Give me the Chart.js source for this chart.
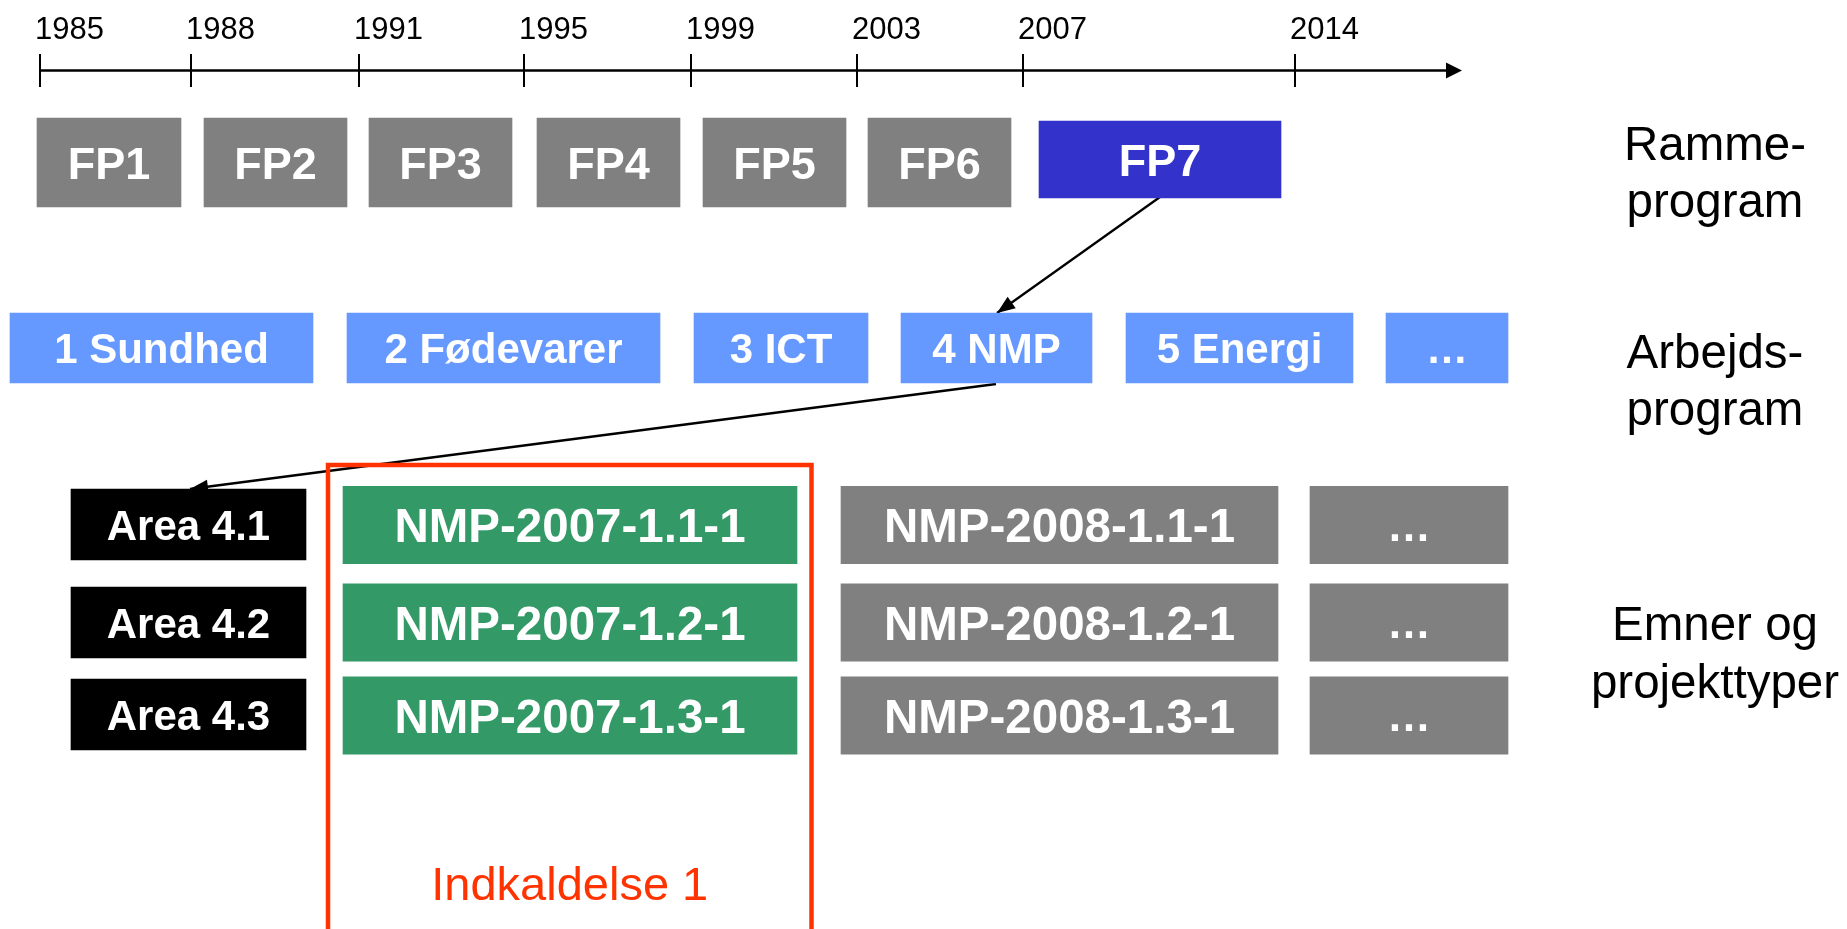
<!DOCTYPE html>
<html lang="da">
<head>
<meta charset="utf-8">
<title>FP7 - struktur</title>
<script src="https://cdn.jsdelivr.net/npm/chart.js"></script>
<style>
  html, body { margin: 0; padding: 0; background: #fff; overflow: hidden; }
  #wrap { width: 1847px; height: 929px; }
</style>
</head>
<body>
<div id="wrap"><canvas id="fpChart" width="1847" height="929"></canvas></div>
<script>
// Data (texts shown in the diagram)
const years = ['1985', '1988', '1991', '1995', '1999', '2003', '2007', '2014'];
const frameworkPrograms = ['FP1', 'FP2', 'FP3', 'FP4', 'FP5', 'FP6', 'FP7'];
const workPrograms = ['1 Sundhed', '2 Fødevarer', '3 ICT', '4 NMP', '5 Energi', '…'];
const areas = ['Area 4.1', 'Area 4.2', 'Area 4.3'];
const topics2007 = ['NMP-2007-1.1-1', 'NMP-2007-1.2-1', 'NMP-2007-1.3-1'];
const topics2008 = ['NMP-2008-1.1-1', 'NMP-2008-1.2-1', 'NMP-2008-1.3-1'];
const topicsLater = ['…', '…', '…'];
const levelNames = [['Ramme-', 'program'], ['Arbejds-', 'program'], ['Emner og', 'projekttyper']];
const callName = 'Indkaldelse 1';

// Layout (1 unit = 1 px of the slide)
const yearX = [40, 191, 359, 524, 691, 857, 1023, 1295];
const timelineY = 70.5;
const timelineEnd = 1462;
const fpBoxes = [[37, 181], [204, 347], [369, 512], [537, 680], [703, 846], [868, 1011], [1039, 1281]];
const fpRow = { y: 162.5, h: 89 };
const fp7Row = { y: 159.5, h: 77 };
const wpBoxes = [[10, 313], [347, 660], [694, 868], [901, 1092], [1126, 1353], [1386, 1508]];
const wpRow = { y: 348, h: 70 };
const areaRowsY = [524.5, 622.5, 714.5];
const topicRowsY = [525, 622.5, 715.5];
const areaX = [71, 306];
const call07X = [343, 797];
const call08X = [841, 1278];
const laterX = [1310, 1508];
const callFrame = { left: 328, right: 811.5, top: 465 };
const connectors = [
    [{ x: 1160, y: 197 }, { x: 997, y: 313 }],
    [{ x: 996, y: 384 }, { x: 190, y: 489 }]
];
const levelX = 1715;
const levelBaselines = [[160, 217], [368, 425], [640, 698]];

const GRAY = '#808080';
const FONT = '"Liberation Sans", Arial, Helvetica, sans-serif';

// helper: a floating horizontal bar dataset
function boxSet(texts, xs, ys, h, color, size) {
    return {
        type: 'bar',
        indexAxis: 'y',
        data: texts.map((t, i) => ({ x: xs[i], y: ys[i] })),
        backgroundColor: color,
        borderWidth: 0,
        barThickness: h,
        texts: texts,
        textSize: size
    };
}

const fpGray = frameworkPrograms.slice(0, 6);
const fpLast = frameworkPrograms.slice(6);

const datasets = [
    // timeline
    {
        type: 'line',
        data: [{ x: yearX[0], y: timelineY }, { x: timelineEnd - 12, y: timelineY }],
        borderColor: '#000', borderWidth: 2.5, pointRadius: 0, fill: false
    },
    {
        type: 'scatter',
        data: yearX.map(x => ({ x: x, y: timelineY })),
        pointStyle: 'line', rotation: 90, pointRadius: 16.5,
        borderColor: '#000', pointBorderWidth: 2
    },
    boxSet(fpGray, fpBoxes.slice(0, 6), fpGray.map(() => fpRow.y), fpRow.h, GRAY, 45),
    boxSet(fpLast, fpBoxes.slice(6), [fp7Row.y], fp7Row.h, '#3333CC', 45),
    boxSet(workPrograms, wpBoxes, workPrograms.map(() => wpRow.y), wpRow.h, '#6699FF', 42),
    boxSet(areas, areas.map(() => areaX), areaRowsY, 71, '#000000', 42),
    boxSet(topics2007, topics2007.map(() => call07X), topicRowsY, 77.5, '#339966', 47.5),
    boxSet(topics2008, topics2008.map(() => call08X), topicRowsY, 77.5, GRAY, 47.5),
    boxSet(topicsLater, topicsLater.map(() => laterX), topicRowsY, 77.5, GRAY, 44),
    // red frame around call 1
    {
        type: 'line',
        data: [
            { x: callFrame.left, y: 940 }, { x: callFrame.left, y: callFrame.top },
            { x: callFrame.right, y: callFrame.top }, { x: callFrame.right, y: 940 }
        ],
        borderColor: '#FF3300', borderWidth: 4.5, pointRadius: 0, fill: false
    }
];

connectors.forEach(c => {
    datasets.push({
        type: 'line', data: c, borderColor: '#000', borderWidth: 2.3,
        pointRadius: 0, fill: false, connector: true
    });
});

function arrowHead(ctx, tip, from, len, hw) {
    const dx = tip.x - from.x, dy = tip.y - from.y;
    const d = Math.hypot(dx, dy);
    const ux = dx / d, uy = dy / d;
    const bx = tip.x - ux * len, by = tip.y - uy * len;
    ctx.beginPath();
    ctx.moveTo(tip.x, tip.y);
    ctx.lineTo(bx - uy * hw, by + ux * hw);
    ctx.lineTo(bx + uy * hw, by - ux * hw);
    ctx.closePath();
    ctx.fill();
}

const diagramText = {
    id: 'diagramText',
    afterDatasetsDraw(chart) {
        const ctx = chart.ctx;
        const xs = chart.scales.x, ys = chart.scales.y;
        const px = v => xs.getPixelForValue(v);
        const py = v => ys.getPixelForValue(v);
        ctx.save();

        // labels inside boxes
        chart.data.datasets.forEach((ds, i) => {
            if (!ds.texts) return;
            const meta = chart.getDatasetMeta(i);
            ctx.font = 'bold ' + ds.textSize + 'px ' + FONT;
            ctx.fillStyle = '#fff';
            ctx.textAlign = 'center';
            ctx.textBaseline = 'alphabetic';
            meta.data.forEach((bar, j) => {
                const cx = (bar.x + bar.base) / 2;
                ctx.fillText(ds.texts[j], cx, bar.y + ds.textSize * 0.358);
            });
        });

        // year labels
        ctx.fillStyle = '#000';
        ctx.font = '31px ' + FONT;
        ctx.textAlign = 'left';
        years.forEach((y, i) => ctx.fillText(y, px(yearX[i]) - 5, py(38.5)));

        // timeline arrow head
        arrowHead(ctx, { x: px(timelineEnd), y: py(timelineY) },
            { x: px(0), y: py(timelineY) }, 16, 8);

        // connector arrow heads
        chart.data.datasets.forEach(ds => {
            if (!ds.connector) return;
            const a = ds.data[0], b = ds.data[1];
            arrowHead(ctx, { x: px(b.x), y: py(b.y) }, { x: px(a.x), y: py(a.y) }, 18, 7);
        });

        // level names on the right
        ctx.font = '47.5px ' + FONT;
        ctx.textAlign = 'center';
        levelNames.forEach((lines, i) => {
            lines.forEach((t, k) => ctx.fillText(t, px(levelX), py(levelBaselines[i][k])));
        });

        // call label
        ctx.font = '47px ' + FONT;
        ctx.fillStyle = '#FF3300';
        ctx.fillText(callName, px((callFrame.left + callFrame.right) / 2), py(900));
        ctx.restore();
    }
};

new Chart(document.getElementById('fpChart'), {
    type: 'bar',
    data: { datasets: datasets },
    options: {
        responsive: false,
        devicePixelRatio: 1,
        animation: false,
        events: [],
        layout: { padding: 0, autoPadding: false },
        datasets: { bar: { grouped: false } },
        plugins: { legend: { display: false }, tooltip: { enabled: false } },
        scales: {
            x: { type: 'linear', min: 0, max: 1847, display: false, offset: false },
            y: { type: 'linear', min: 0, max: 929, reverse: true, display: false, offset: false }
        }
    },
    plugins: [diagramText]
});
</script>
</body>
</html>
